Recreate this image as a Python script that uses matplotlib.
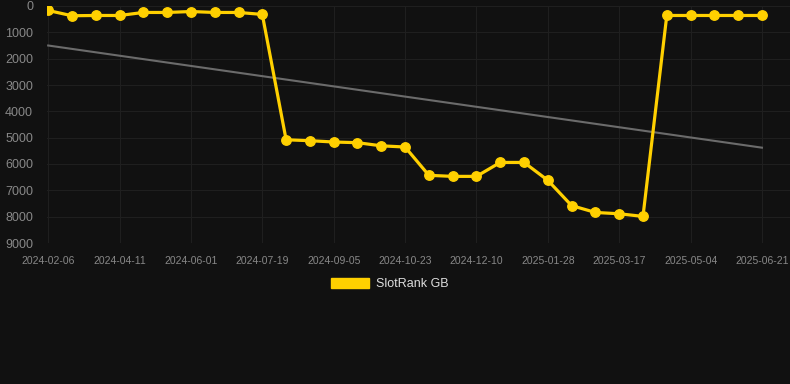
import matplotlib
matplotlib.use("Agg")
import matplotlib.pyplot as plt
from matplotlib.patches import Patch

plt.rcParams['font.family'] = ['Liberation Sans', 'DejaVu Sans']

dates = ["2024-02-06", "", "", "2024-04-11", "", "", "2024-06-01", "", "", "2024-07-19",
         "", "", "2024-09-05", "", "", "2024-10-23", "", "", "2024-12-10", "", "",
         "2025-01-28", "", "", "2025-03-17", "", "", "2025-05-04", "", "", "2025-06-21"]
ranks = [170, 370, 360, 360, 245, 245, 210, 245, 245, 320,
         5080, 5115, 5165, 5190, 5310, 5355, 6430, 6470, 6470, 5940, 5940,
         6620, 7580, 7840, 7890, 7990, 360, 360, 360, 360, 360]
trend_ends = [1500, 5380]

bg = "#111111"
fig = plt.figure(figsize=(7.9, 3.84), dpi=100, facecolor=bg)
W, H = 790, 384
left, right, top, bottom = 47, 790, 6, 243
ax = fig.add_axes([left / W, 1 - bottom / H, (right - left) / W, (bottom - top) / H])
ax.set_facecolor(bg)

x = list(range(len(ranks)))
ax.plot([x[0], x[-1]], trend_ends, color="#6b6b6b", lw=1.5, zorder=2)
ax.plot(x, ranks, color="#FFD000", lw=2.3, marker="o", markersize=6.8,
        markerfacecolor="#FFD000", markeredgecolor="#FFD000", zorder=3)

step = 23.83
ax.set_xlim(-0.05, (right - 47) / step)
ax.set_ylim(9000, 0)
ax.set_yticks(range(0, 9001, 1000))
ax.set_yticklabels([str(v) for v in range(0, 9001, 1000)])
tick_idx = [i for i, d in enumerate(dates) if d]
ax.set_xticks(tick_idx)
ax.set_xticklabels([dates[i] for i in tick_idx])

ax.grid(True, color="#1f1f1f", lw=0.8)
ax.set_axisbelow(True)
for s in ax.spines.values():
    s.set_visible(False)
ax.tick_params(axis="y", colors="#888888", labelsize=9, length=0, pad=10)
ax.tick_params(axis="x", colors="#888888", labelsize=7.5, length=0, pad=9)

handles = [Patch(facecolor="#FFD000", edgecolor="#FFD000", label="SlotRank GB")]
leg = fig.legend(handles=handles, loc="center", bbox_to_anchor=(390 / W, 1 - 284 / H),
                 frameon=False, fontsize=9, handlelength=3.0, handleheight=0.9,
                 handletextpad=0.6, labelcolor="#dddddd")

fig.savefig("out.png", dpi=100, facecolor=bg)
